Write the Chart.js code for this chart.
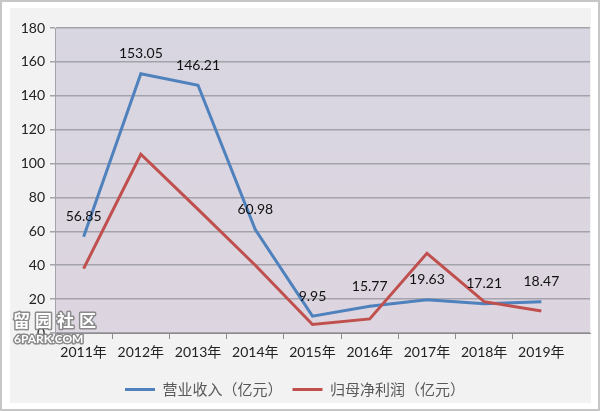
<!DOCTYPE html>
<html>
<head>
<meta charset="utf-8">
<script src="https://cdn.jsdelivr.net/npm/chart.js@4/dist/chart.umd.min.js"></script>
<style>
    html, body { margin: 0; padding: 0; background: #fff; }
    canvas { display: block; }
</style>
</head>
<body>
<canvas id="chart" width="600" height="411"></canvas>
<script>
// Data
const years = ['2011年', '2012年', '2013年', '2014年', '2015年', '2016年', '2017年', '2018年', '2019年'];
const revenue = [56.85, 153.05, 146.21, 60.98, 9.95, 15.77, 19.63, 17.21, 18.47];
const profit = [38, 105.5, 73, 40, 5, 8.3, 47, 18.5, 13];
const yTicks = [0, 20, 40, 60, 80, 100, 120, 140, 160, 180];
const seriesNames = ['营业收入（亿元）', '归母净利润（亿元）'];

const numFont = 'Lato, "Noto Sans CJK SC", sans-serif';
const cjkFont = '"Noto Sans CJK SC", sans-serif';

// Frame + plot background
const backdrop = {
    id: 'backdrop',
    beforeDraw(chart) {
        const { ctx, chartArea: a } = chart;
        ctx.save();
        ctx.fillStyle = '#ffffff';
        ctx.fillRect(0, 0, chart.width, chart.height);
        ctx.strokeStyle = '#c6c6c6';
        ctx.lineWidth = 2;
        ctx.strokeRect(1, 1, chart.width - 2, chart.height - 2);
        ctx.fillStyle = '#f2f2f2';
        ctx.fillRect(10, 8, 581, 395);
        const g = ctx.createLinearGradient(0, a.top, 0, a.bottom);
        g.addColorStop(0, '#d8d6e1');
        g.addColorStop(1, '#ddd5df');
        ctx.fillStyle = g;
        ctx.fillRect(a.left, a.top, a.right - a.left, a.bottom - a.top);
        ctx.restore();
    }
};

// Value labels above the revenue line
const valueLabels = {
    id: 'valueLabels',
    afterDatasetsDraw(chart) {
        const { ctx } = chart;
        const meta = chart.getDatasetMeta(0);
        ctx.save();
        ctx.font = '14px ' + numFont;
        ctx.fillStyle = '#111';
        ctx.textAlign = 'center';
        ctx.textBaseline = 'middle';
        meta.data.forEach((pt, i) => {
            ctx.fillText(revenue[i].toFixed(2), pt.x, pt.y - 20);
        });
        ctx.restore();
    }
};

// Site watermark in the lower-left corner
const watermark = {
    id: 'watermark',
    afterDraw(chart) {
        const { ctx } = chart;
        ctx.save();
        ctx.lineJoin = 'round';
        ctx.textBaseline = 'middle';
        ctx.textAlign = 'left';
        ctx.font = 'bold 17px ' + cjkFont;
        ctx.strokeStyle = '#8a8a8a';
        ctx.lineWidth = 3;
        ctx.fillStyle = '#ffffff';
        ['留', '园', '社', '区'].forEach((ch, i) => {
            ctx.strokeText(ch, 13 + i * 22, 321);
            ctx.fillText(ch, 13 + i * 22, 321);
        });
        ctx.font = 'bold 12px ' + numFont;
        ctx.strokeText('6PARK.COM', 14, 339);
        ctx.fillText('6PARK.COM', 14, 339);
        ctx.restore();
    }
};

const ctx = document.getElementById('chart').getContext('2d');
new Chart(ctx, {
    type: 'line',
    data: {
        datasets: [{
            label: seriesNames[0],
            data: revenue.map((v, i) => ({ x: i, y: v })),
            borderColor: '#4f81bd',
            backgroundColor: '#4f81bd',
            borderWidth: 3,
            pointRadius: 0,
            tension: 0,
            order: 1
        }, {
            label: seriesNames[1],
            data: profit.map((v, i) => ({ x: i, y: v })),
            borderColor: '#c0504d',
            backgroundColor: '#c0504d',
            borderWidth: 3,
            pointRadius: 0,
            tension: 0,
            order: 0
        }]
    },
    options: {
        responsive: false,
        animation: false,
        layout: { padding: { left: 0, right: 10, top: 28, bottom: 4 } },
        plugins: {
            legend: {
                position: 'bottom',
                labels: {
                    usePointStyle: true,
                    pointStyle: 'line',
                    pointStyleWidth: 30,
                    padding: 10,
                    color: '#595959',
                    font: { family: cjkFont, size: 15 },
                    sort: (a, b) => a.datasetIndex - b.datasetIndex
                }
            },
            tooltip: { enabled: false }
        },
        scales: {
            x: {
                type: 'linear',
                min: -0.5,
                max: 8.85,
                afterBuildTicks: (scale) => {
                    scale.ticks = years.map((y, i) => ({ value: i - 0.5 }));
                },
                afterFit: (scale) => { scale.height = 39; },
                ticks: {
                    autoSkip: false,
                    maxRotation: 0,
                    labelOffset: 28.6,
                    padding: 5,
                    color: '#222',
                    font: { family: numFont, size: 14 },
                    callback: (v) => years[Math.round(v + 0.5)]
                },
                grid: { drawOnChartArea: false, drawTicks: true, tickLength: 6, color: '#8c8c8c' },
                border: { display: true, color: '#8c8c8c' }
            },
            y: {
                min: 0,
                max: 180,
                afterBuildTicks: (scale) => {
                    scale.ticks = yTicks.map(v => ({ value: v }));
                },
                afterFit: (scale) => { scale.width = 55; },
                ticks: {
                    padding: 5,
                    color: '#222',
                    font: { family: numFont, size: 14 }
                },
                grid: { color: '#a4a2aa', lineWidth: 1.5, tickLength: 5 },
                border: { display: true, color: '#a4a2aa' }
            }
        }
    },
    plugins: [backdrop, valueLabels, watermark]
});
</script>
</body>
</html>
